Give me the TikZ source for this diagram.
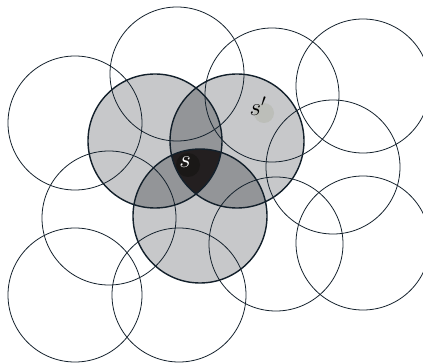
\documentclass[tikz,border=0pt]{standalone}
\usepackage{amsmath}
\usetikzlibrary{calc}
\definecolor{rim}{HTML}{13202B}
\definecolor{cover}{HTML}{C7C8CA}
\definecolor{overlap}{HTML}{939598}
\definecolor{core}{HTML}{231F20}
\definecolor{coredot}{HTML}{1A1817}
\definecolor{coverdot}{HTML}{BCBEB9}
\tikzset{
  ring/.style={draw=rim, line width=0.8pt},
  hub/.style={draw=rim, line width=1.4pt},
  spot/.style={circle, inner sep=0pt, minimum size=24pt},
  tag/.style={inner sep=0pt, font=\fontsize{25}{30}\selectfont},
}
\newcommand{\rad}{67}

\begin{document}
\begin{tikzpicture}[x=1pt, y=-1pt]
  \useasboundingbox (0,0) rectangle (423,363);

  % sensor disks
  \coordinate (c1)  at (75,123);
  \coordinate (c2)  at (177,74);
  \coordinate (c3)  at (272,95);
  \coordinate (c4)  at (363,86);
  \coordinate (c5)  at (333,167);
  \coordinate (c6)  at (363,243);
  \coordinate (c7)  at (109,218);
  \coordinate (c8)  at (75,295);
  \coordinate (c9)  at (179,295);
  \coordinate (c10) at (276,244);
  \coordinate (hA)  at (155,141);
  \coordinate (hB)  at (237,141);
  \coordinate (hC)  at (200,216);

  % covered areas
  \foreach \h in {hA,hB,hC}
    \fill[cover] (\h) circle (\rad);
  \foreach \p/\q in {hA/hB,hA/hC,hB/hC}{
    \begin{scope}
      \clip (\p) circle (\rad);
      \fill[overlap] (\q) circle (\rad);
    \end{scope}
  }
  \begin{scope}
    \clip (hA) circle (\rad);
    \clip (hB) circle (\rad);
    \fill[core] (hC) circle (\rad);
  \end{scope}

  \node[spot, fill=coredot] (sdot) at (188,165) {};
  \node[spot, fill=coverdot, minimum size=20pt] (sdot2) at (264,113) {};

  \foreach \c in {c1,c2,c3,c4,c5,c6,c7,c8,c9,c10}
    \draw[ring] (\c) circle (\rad);
  \foreach \h in {hA,hB,hC}
    \draw[hub] (\h) circle (\rad);

  \node[tag, text=white] (s) at (185,162) {$s$};
  \node[tag] (s2) at (258,106) {$s'$};
\end{tikzpicture}
\end{document}
